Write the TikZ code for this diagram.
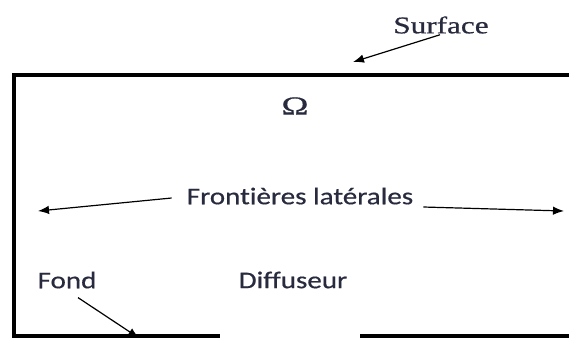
\documentclass[tikz,border=0pt]{standalone}
\usepackage{fontspec}
\setmainfont[FakeBold=0.6,AutoFakeBold=0.6]{Liberation Serif}
\newfontfamily\labelsans[Ligatures=NoCommon,FakeBold=0.5]{Carlito}
\usetikzlibrary{arrows.meta}
\definecolor{inktext}{RGB}{40,42,62}
\newcommand\widetxt[2]{\scalebox{#1}[1]{#2}}
\tikzset{
  wall/.style={line width=4pt, line cap=rect},
  pointer/.style={line width=1.2pt, -{Latex[length=11pt,width=8.5pt]}},
  serlabel/.style={inner sep=0pt, text=inktext, font=\fontsize{24}{28}\selectfont},
  sanlabel/.style={inner sep=0pt, text=inktext, font=\labelsans\fontsize{24}{28}\selectfont},
}
\begin{document}
\begin{tikzpicture}[x=1pt,y=-1pt]
\useasboundingbox (0,0) rectangle (569,338);
% walls
\coordinate (tr) at (572,75);
\coordinate (tl) at (14,75);
\coordinate (bl) at (14,336);
\coordinate (bm1) at (218,336);
\coordinate (bm2) at (360,336);
\coordinate (br) at (572,336);
\draw[wall] (tr) -- (tl) -- (bl) -- (bm1);
\draw[wall, line cap=butt] (bm2) -- (br);
% labels
\node[serlabel] (surf) at (441,25) {\widetxt{1.3}{Surface}};
\node[serlabel, font=\fontsize{26}{30}\selectfont] (omega) at (295,106) {\widetxt{1.4}{Ω}};
\node[sanlabel] (front) at (300,196) {\widetxt{1.21}{Frontières latérales}};
\node[sanlabel] (fond) at (67,280) {\widetxt{1.21}{Fond}};
\node[sanlabel] (diff) at (293,280) {\widetxt{1.21}{Diffuseur}};
% arrow ends
\coordinate (surftip) at (353,62);
\coordinate (lefttip) at (38,211);
\coordinate (righttip) at (564,211);
\coordinate (fondtip) at (139,338);
\draw[pointer] ([xshift=-1pt,yshift=-1pt]surf.south) -- (surftip);
\draw[pointer] ([xshift=-15pt,yshift=-2pt]front.west) -- (lefttip);
\draw[pointer] ([xshift=10pt,yshift=-11pt]front.east) -- (righttip);
\draw[pointer] ([xshift=11pt,yshift=-9pt]fond.south) -- (fondtip);
\end{tikzpicture}
\end{document}
